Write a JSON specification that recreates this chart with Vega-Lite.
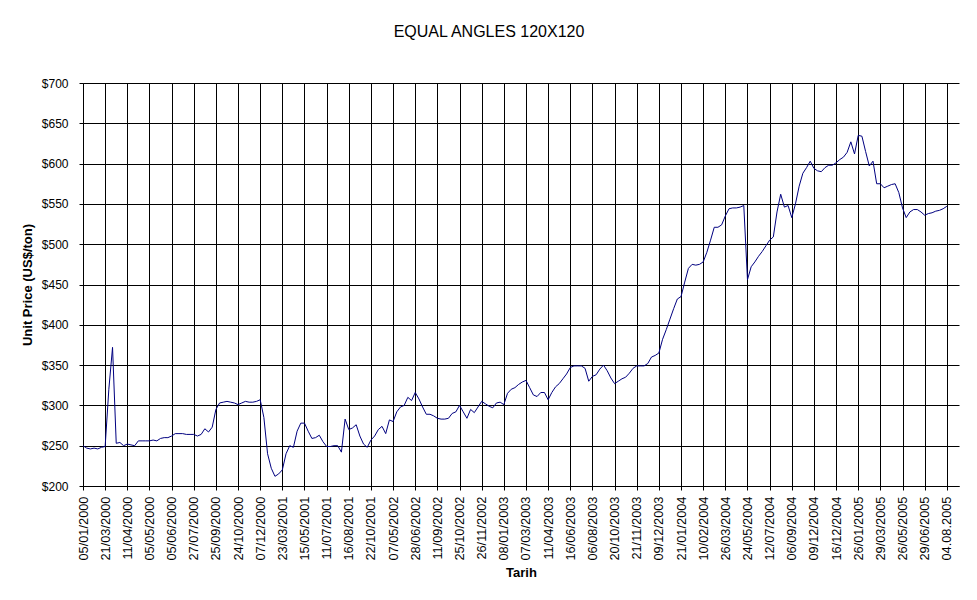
{
  "$schema": "https://vega.github.io/schema/vega-lite/v6.json",
  "autosize": "none",
  "width": 876,
  "height": 403,
  "padding": {"left": 83, "top": 83, "right": 18, "bottom": 114},
  "background": "white",
  "title": {
    "text": "EQUAL ANGLES 120X120",
    "font": "Liberation Sans",
    "fontSize": 16,
    "fontWeight": "normal",
    "color": "black",
    "anchor": "middle",
    "baseline": "alphabetic",
    "offset": 24,
    "dx": -32
  },
  "config": {
    "view": {"stroke": null},
    "axis": {
      "labelFont": "Liberation Sans",
      "titleFont": "Liberation Sans",
      "labelColor": "black",
      "titleColor": "black",
      "domainColor": "black",
      "tickColor": "black",
      "gridColor": "black",
      "gridOpacity": 1,
      "gridWidth": 1,
      "domainWidth": 1,
      "tickWidth": 1
    }
  },
  "data": {
    "values": [
      {"i":0,"v":250},{"i":1,"v":247},{"i":2,"v":246},{"i":3,"v":247},{"i":4,"v":246},{"i":5,"v":248},
      {"i":6,"v":249},{"i":7,"v":320},{"i":8,"v":372},{"i":9,"v":253},{"i":10,"v":254},{"i":11,"v":250},
      {"i":12,"v":252},{"i":13,"v":251},{"i":14,"v":250},{"i":15,"v":256},{"i":16,"v":256},{"i":17,"v":256},
      {"i":18,"v":256},{"i":19,"v":257},{"i":20,"v":256},{"i":21,"v":259},{"i":22,"v":260},{"i":23,"v":260},
      {"i":24,"v":262},{"i":25,"v":265},{"i":26,"v":265},{"i":27,"v":265},{"i":28,"v":264},{"i":29,"v":264},
      {"i":30,"v":264},{"i":31,"v":262},{"i":32,"v":264},{"i":33,"v":271},{"i":34,"v":267},{"i":35,"v":273},
      {"i":36,"v":295},{"i":37,"v":303},{"i":38,"v":304},{"i":39,"v":305},{"i":40,"v":304},{"i":41,"v":303},
      {"i":42,"v":301},{"i":43,"v":303},{"i":44,"v":305},{"i":45,"v":304},{"i":46,"v":304},{"i":47,"v":305},
      {"i":48,"v":307},{"i":49,"v":285},{"i":50,"v":240},{"i":51,"v":222},{"i":52,"v":212},{"i":53,"v":215},
      {"i":54,"v":220},{"i":55,"v":240},{"i":56,"v":250},{"i":57,"v":248},{"i":58,"v":268},{"i":59,"v":278},
      {"i":60,"v":278},{"i":61,"v":268},{"i":62,"v":259},{"i":63,"v":260},{"i":64,"v":263},{"i":65,"v":255},
      {"i":66,"v":249},{"i":67,"v":249},{"i":68,"v":250},{"i":69,"v":250},{"i":70,"v":242},{"i":71,"v":283},
      {"i":72,"v":270},{"i":73,"v":272},{"i":74,"v":276},{"i":75,"v":262},{"i":76,"v":252},{"i":77,"v":248},
      {"i":78,"v":257},{"i":79,"v":262},{"i":80,"v":270},{"i":81,"v":274},{"i":82,"v":265},{"i":83,"v":282},
      {"i":84,"v":280},{"i":85,"v":292},{"i":86,"v":298},{"i":87,"v":300},{"i":88,"v":310},{"i":89,"v":306},
      {"i":90,"v":316},{"i":91,"v":308},{"i":92,"v":298},{"i":93,"v":289},{"i":94,"v":289},{"i":95,"v":287},
      {"i":96,"v":284},{"i":97,"v":283},{"i":98,"v":283},{"i":99,"v":284},{"i":100,"v":290},{"i":101,"v":292},
      {"i":102,"v":300},{"i":103,"v":292},{"i":104,"v":284},{"i":105,"v":295},{"i":106,"v":291},{"i":107,"v":298},
      {"i":108,"v":305},{"i":109,"v":302},{"i":110,"v":299},{"i":111,"v":297},{"i":112,"v":303},{"i":113,"v":304},
      {"i":114,"v":301},{"i":115,"v":315},{"i":116,"v":320},{"i":117,"v":322},{"i":118,"v":326},{"i":119,"v":329},
      {"i":120,"v":331},{"i":121,"v":322},{"i":122,"v":313},{"i":123,"v":311},{"i":124,"v":316},{"i":125,"v":316},
      {"i":126,"v":307},{"i":127,"v":316},{"i":128,"v":323},{"i":129,"v":327},{"i":130,"v":333},{"i":131,"v":339},
      {"i":132,"v":347},{"i":133,"v":349},{"i":134,"v":349},{"i":135,"v":349},{"i":136,"v":346},{"i":137,"v":330},
      {"i":138,"v":336},{"i":139,"v":338},{"i":140,"v":345},{"i":141,"v":350},{"i":142,"v":343},{"i":143,"v":334},
      {"i":144,"v":327},{"i":145,"v":330},{"i":146,"v":333},{"i":147,"v":335},{"i":148,"v":340},{"i":149,"v":346},
      {"i":150,"v":349},{"i":151,"v":349},{"i":152,"v":349},{"i":153,"v":352},{"i":154,"v":360},{"i":155,"v":362},
      {"i":156,"v":365},{"i":157,"v":382},{"i":158,"v":394},{"i":159,"v":407},{"i":160,"v":420},{"i":161,"v":432},
      {"i":162,"v":435},{"i":163,"v":453},{"i":164,"v":470},{"i":165,"v":475},{"i":166,"v":474},{"i":167,"v":475},
      {"i":168,"v":478},{"i":169,"v":490},{"i":170,"v":505},{"i":171,"v":521},{"i":172,"v":521},{"i":173,"v":524},
      {"i":174,"v":535},{"i":175,"v":544},{"i":176,"v":545},{"i":177,"v":545},{"i":178,"v":546},{"i":179,"v":548},
      {"i":180,"v":456},{"i":181,"v":472},{"i":182,"v":478},{"i":183,"v":485},{"i":184,"v":491},{"i":185,"v":498},
      {"i":186,"v":505},{"i":187,"v":509},{"i":188,"v":540},{"i":189,"v":562},{"i":190,"v":546},{"i":191,"v":548},
      {"i":192,"v":533},{"i":193,"v":550},{"i":194,"v":572},{"i":195,"v":588},{"i":196,"v":595},{"i":197,"v":603},
      {"i":198,"v":594},{"i":199,"v":591},{"i":200,"v":590},{"i":201,"v":595},{"i":202,"v":598},{"i":203,"v":598},
      {"i":204,"v":601},{"i":205,"v":605},{"i":206,"v":608},{"i":207,"v":614},{"i":208,"v":627},{"i":209,"v":612},
      {"i":210,"v":635},{"i":211,"v":634},{"i":212,"v":615},{"i":213,"v":597},{"i":214,"v":603},{"i":215,"v":575},
      {"i":216,"v":575},{"i":217,"v":570},{"i":218,"v":572},{"i":219,"v":574},{"i":220,"v":575},{"i":221,"v":564},
      {"i":222,"v":545},{"i":223,"v":533},{"i":224,"v":540},{"i":225,"v":543},{"i":226,"v":543},{"i":227,"v":540},
      {"i":228,"v":536},{"i":229,"v":538},{"i":230,"v":539},{"i":231,"v":541},{"i":232,"v":542},{"i":233,"v":544},{"i":234,"v":547}
    ]
  },
  "mark": {"type": "line", "color": "#000080", "strokeWidth": 1, "interpolate": "linear", "clip": true},
  "encoding": {
    "x": {
      "field": "i",
      "type": "quantitative",
      "scale": {"domain": [0, 237.3], "nice": false, "zero": false},
      "axis": {
        "title": "Tarih",
        "titleFontSize": 13,
        "titleFontWeight": "bold",
        "titlePadding": 6,
        "values": [0,6,12,18,24,30,36,42,48,54,60,66,72,78,84,90,96,102,108,114,120,126,132,138,144,150,156,162,168,174,180,186,192,198,204,210,216,222,228,234],
        "labelExpr": "['05/01/2000','21/03/2000','11/04/2000','05/05/2000','05/06/2000','27/07/2000','25/09/2000','24/10/2000','07/12/2000','23/03/2001','15/05/2001','11/07/2001','16/08/2001','22/10/2001','07/05/2002','28/06/2002','11/09/2002','25/10/2002','26/11/2002','08/01/2003','07/03/2003','11/04/2003','16/06/2003','06/08/2003','20/10/2003','21/11/2003','09/12/2003','21/01/2004','10/02/2004','26/03/2004','24/05/2004','12/07/2004','06/09/2004','09/12/2004','16/12/2004','26/01/2005','29/03/2005','26/05/2005','29/06/2005','04.08.2005'][round(datum.value / 6)]",
        "labelAngle": -90,
        "labelFontSize": 12.8,
        "labelPadding": 6,
        "labelOverlap": false,
        "labelFlush": false,
        "labelBound": false,
        "tickSize": 4,
        "grid": true
      }
    },
    "y": {
      "field": "v",
      "type": "quantitative",
      "scale": {"domain": [200, 700], "nice": false, "zero": false},
      "axis": {
        "title": "Unit Price (US$/ton)",
        "titleFontSize": 13,
        "titleFontWeight": "bold",
        "titlePadding": 7,
        "values": [200,250,300,350,400,450,500,550,600,650,700],
        "labelExpr": "'$' + datum.value",
        "labelFontSize": 12,
        "labelPadding": 11,
        "labelOverlap": false,
        "labelFlush": false,
        "tickSize": 4,
        "grid": true
      }
    }
  }
}
